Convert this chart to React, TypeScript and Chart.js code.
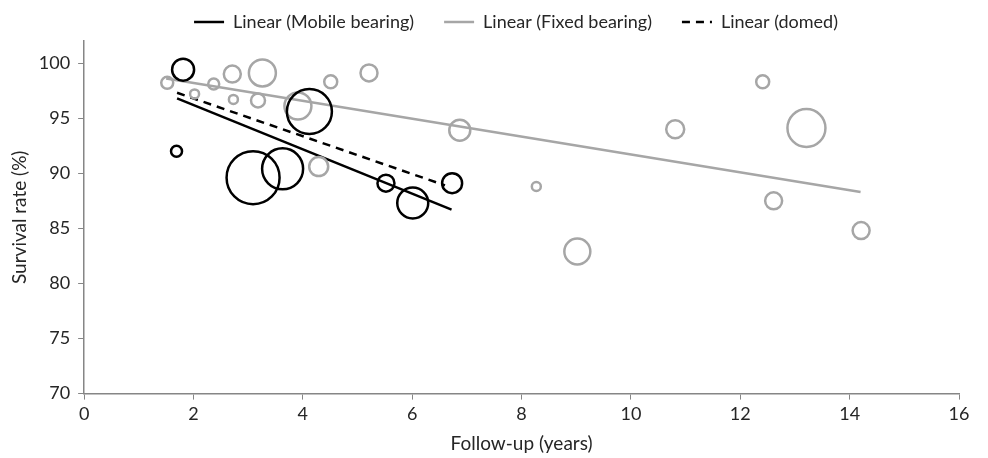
import React, { useEffect, useRef } from 'react';
import { Chart, registerables } from 'chart.js';

Chart.register(...registerables);

// Mobile bearing studies (black bubbles)
const mobileX = [1.81, 1.69, 3.09, 3.63, 4.12, 5.52, 6.01, 6.73];
const mobileY = [99.4, 92.0, 89.6, 90.4, 95.6, 89.1, 87.3, 89.1];
const mobileSize = [11, 5.5, 26.5, 20.5, 22.5, 8.5, 15.5, 10];

// Fixed bearing studies (gray bubbles)
const fixedX = [1.52, 2.02, 2.37, 2.71, 2.73, 3.18, 3.26, 3.91, 4.29, 4.51, 5.21, 6.87, 8.27, 9.02, 10.81, 12.41, 12.61, 13.21, 14.21];
const fixedY = [98.2, 97.2, 98.1, 99.0, 96.7, 96.6, 99.1, 96.1, 90.6, 98.3, 99.1, 93.9, 88.8, 82.9, 94.0, 98.3, 87.5, 94.1, 84.8];
const fixedSize = [6, 4.5, 5.5, 8.5, 4.5, 7, 13.5, 13.5, 9.5, 6.5, 8.5, 10.5, 4.5, 13, 9, 6.5, 8.5, 19, 8.5];

// Trend lines (endpoints)
const mobileTrendX = [1.7, 6.72];
const mobileTrendY = [96.8, 86.7];
const fixedTrendX = [1.5, 14.2];
const fixedTrendY = [98.6, 88.3];
const domedTrendX = [1.7, 6.6];
const domedTrendY = [97.3, 88.9];

const legendLabels = ['Linear (Mobile bearing)', 'Linear (Fixed bearing)', 'Linear (domed)'];
const xTitle = 'Follow-up (years)';
const yTitle = 'Survival rate (%)';

const BLACK = '#000000';
const GRAY = '#a6a6a6';
const AXIS = '#868686';
const TEXT = '#262626';
const FONT = 'Lato, "Open Sans", sans-serif';
const LEGEND_SHIFT = 28;

const legendShift = {
  id: 'legendShift',
  afterUpdate(chart: any) {
    const lg = chart.legend;
    if (!lg) return;
    lg.left += LEGEND_SHIFT;
    lg.right += LEGEND_SHIFT;
    (lg.legendHitBoxes || []).forEach((h: any) => {
      h.left += LEGEND_SHIFT;
    });
  },
};

export default function App() {
  const ref = useRef<HTMLCanvasElement | null>(null);

  useEffect(() => {
    if (!ref.current) return;
    const bubbles = (xs: number[], ys: number[], rs: number[]) =>
      xs.map((x, i) => ({ x, y: ys[i], r: rs[i] }));
    const line = (xs: number[], ys: number[]) => xs.map((x, i) => ({ x, y: ys[i] }));

    const chart = new Chart(ref.current, {
      type: 'bubble',
      plugins: [legendShift],
      data: {
        datasets: [
          {
            type: 'bubble',
            label: 'Mobile bearing',
            data: bubbles(mobileX, mobileY, mobileSize),
            backgroundColor: 'rgba(0,0,0,0)',
            borderColor: BLACK,
            borderWidth: 2.5,
          },
          {
            type: 'bubble',
            label: 'Fixed bearing',
            data: bubbles(fixedX, fixedY, fixedSize),
            backgroundColor: 'rgba(0,0,0,0)',
            borderColor: GRAY,
            borderWidth: 2.5,
          },
          {
            type: 'line',
            label: legendLabels[0],
            data: line(mobileTrendX, mobileTrendY),
            borderColor: BLACK,
            borderWidth: 2.5,
            pointRadius: 0,
            fill: false,
          } as any,
          {
            type: 'line',
            label: legendLabels[1],
            data: line(fixedTrendX, fixedTrendY),
            borderColor: GRAY,
            borderWidth: 2.5,
            pointRadius: 0,
            fill: false,
          } as any,
          {
            type: 'line',
            label: legendLabels[2],
            data: line(domedTrendX, domedTrendY),
            borderColor: BLACK,
            borderWidth: 2.5,
            borderDash: [8, 6],
            pointRadius: 0,
            fill: false,
          } as any,
        ],
      },
      options: {
        responsive: false,
        animation: false,
        layout: { padding: { left: 0, right: 12, top: -17, bottom: 0 } },
        plugins: {
          tooltip: { enabled: false },
          legend: {
            display: true,
            position: 'top',
            labels: {
              usePointStyle: true,
              pointStyleWidth: 30,
              padding: 30,
              color: TEXT,
              font: { family: FONT, size: 18 },
              generateLabels: (c: any) =>
                c.data.datasets
                  .map((ds: any, i: number) => ({
                    text: ds.label,
                    fillStyle: ds.borderColor,
                    strokeStyle: ds.borderColor,
                    lineWidth: 2.5,
                    lineDash: ds.borderDash || [],
                    pointStyle: 'line',
                    hidden: false,
                    datasetIndex: i,
                    fontColor: TEXT,
                  }))
                  .filter((it: any) => it.datasetIndex >= 2),
            },
          },
        },
        scales: {
          x: {
            type: 'linear',
            min: 0,
            max: 16,
            ticks: { stepSize: 2, color: TEXT, font: { family: FONT, size: 18 }, padding: 4 },
            grid: { display: true, drawOnChartArea: false, drawTicks: true, tickLength: 6, color: AXIS },
            border: { display: true, color: AXIS, width: 1.5 },
            title: { display: true, text: xTitle, color: TEXT, font: { family: FONT, size: 19 }, padding: { top: 3, bottom: 3 } },
          },
          y: {
            type: 'linear',
            min: 70,
            max: 102,
            afterBuildTicks: (scale: any) => {
              scale.ticks = scale.ticks.filter((t: any) => t.value % 5 === 0);
            },
            ticks: { stepSize: 5, color: TEXT, font: { family: FONT, size: 18 }, padding: 8 },
            grid: { display: true, drawOnChartArea: false, drawTicks: true, tickLength: 6, color: AXIS },
            border: { display: true, color: AXIS, width: 1.5 },
            title: { display: true, text: yTitle, color: TEXT, font: { family: FONT, size: 19 }, padding: { top: 8, bottom: 0 } },
          },
        },
      } as any,
    });
    return () => chart.destroy();
  }, []);

  return (
    <div style={{ position: 'fixed', left: 0, top: 0, width: 988, height: 458, background: '#fff' }}>
      <canvas ref={ref} width={988} height={458} style={{ width: 988, height: 458 }} />
    </div>
  );
}
